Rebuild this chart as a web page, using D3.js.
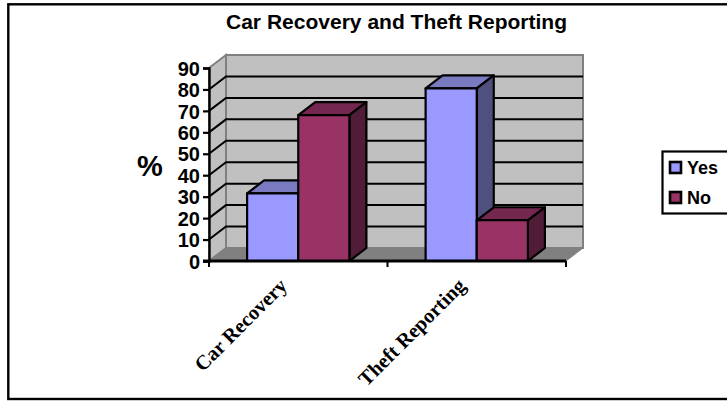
<!DOCTYPE html>
<html>
<head>
<meta charset="utf-8">
<style>
html,body{margin:0;padding:0;background:#fff;overflow:hidden}
svg{display:block}
.sans{font-family:"Liberation Sans",Arial,sans-serif;font-weight:bold;fill:#000}
.serif{font-family:"Liberation Serif","Times New Roman",serif;font-weight:bold;fill:#000}
</style>
<script src="https://cdn.jsdelivr.net/npm/d3@7/dist/d3.min.js"></script>
</head>
<body>
<svg id="c" width="727" height="401"></svg>
<script>
const categories = ["Car Recovery", "Theft Reporting"];
const seriesNames = ["Yes", "No"];
const yesValues = [31.5, 80.5];
const noValues = [68, 19];
const yTicks = [0, 10, 20, 30, 40, 50, 60, 70, 80, 90];
const seriesColors = ["#9999ff", "#993366"];
const topColors = ["#7a7ac0", "#742850"];
const sideColors = ["#50507f", "#501c38"];
const title = "Car Recovery and Theft Reporting";
const yTitle = "%";

const svg = d3.select("#c");
const depthX = 17, depthY = 13;

const x0 = d3.scaleBand().domain(categories).range([209, 566]);
const x1 = d3.scaleBand().domain(seriesNames).range([0, x0.bandwidth()]).paddingInner(0).paddingOuter(0.745);
const y = d3.scaleLinear().domain([0, 90]).range([261, 68]);

// outer frame
svg.append("rect").attr("x", 8.3).attr("y", 4.3).attr("width", 740).attr("height", 394.7)
  .attr("fill", "#fff").attr("stroke", "#000").attr("stroke-width", 2.4);

svg.append("text").attr("class", "sans").attr("x", 396.5).attr("y", 28.5)
  .attr("text-anchor", "middle").attr("font-size", 21).attr("textLength", 341).text(title);

// walls
const [xL, xR] = x0.range();
const y0 = y(0), yT = y(90);
const poly = (pts, fill, stroke, sw) => svg.append("polygon")
  .attr("points", pts.map(p => p.join(",")).join(" "))
  .attr("fill", fill).attr("stroke", stroke || "none").attr("stroke-width", sw || 0);

poly([[xL, y0], [xL + depthX, y0 - depthY], [xL + depthX, yT - depthY], [xL, yT]], "#c0c0c0", "#808080", 2);
poly([[xL + depthX, y0 - depthY], [xR + depthX, y0 - depthY], [xR + depthX, yT - depthY], [xL + depthX, yT - depthY]], "#c0c0c0", "#808080", 2);
poly([[xL, y0], [xL + depthX, y0 - depthY], [xR + depthX, y0 - depthY], [xR, y0]], "#808080", "#808080", 1);

// gridlines over the walls
const grid = yTicks.filter(t => t > 0 && t < 90);
svg.append("g").selectAll("path").data(grid).join("path")
  .attr("d", t => `M${xL},${y(t)}L${xL + depthX},${y(t) - depthY}L${xR + depthX},${y(t) - depthY}`)
  .attr("fill", "none").attr("stroke", "#000").attr("stroke-width", 2);

// bars
const bars = [];
categories.forEach((c, i) => {
  bars.push({ c, s: 0, v: yesValues[i] });
  bars.push({ c, s: 1, v: noValues[i] });
});
const stroke = "#000", sw = 2.2;
const barG = svg.append("g").attr("stroke-linejoin", "round");
bars.forEach(b => {
  const l = x0(b.c) + x1(seriesNames[b.s]);
  const r = l + x1.bandwidth();
  const t = y(b.v);
  const g = barG.append("g");
  g.append("polygon").attr("points", [[l, t], [l + depthX, t - depthY], [r + depthX, t - depthY], [r, t]].join(" "))
    .attr("fill", topColors[b.s]).attr("stroke", stroke).attr("stroke-width", sw);
  g.append("polygon").attr("points", [[r, y0], [r + depthX, y0 - depthY], [r + depthX, t - depthY], [r, t]].join(" "))
    .attr("fill", sideColors[b.s]).attr("stroke", stroke).attr("stroke-width", sw);
  g.append("rect").attr("x", l).attr("y", t).attr("width", r - l).attr("height", y0 - t)
    .attr("fill", seriesColors[b.s]).attr("stroke", stroke).attr("stroke-width", sw);
});

// axes
const axisY = d3.axisLeft(y).tickValues(yTicks).tickSize(6).tickPadding(3);
const gy = svg.append("g").attr("transform", `translate(${xL},0)`).call(axisY);
gy.select(".domain").attr("stroke-width", 2.4);
gy.selectAll("line").attr("stroke-width", 2.2);
gy.selectAll("text").attr("class", "sans").attr("font-size", 20).attr("font-family", null).attr("dy", "0.36em");

svg.append("line").attr("x1", xL - 6).attr("x2", xR).attr("y1", y0).attr("y2", y0)
  .attr("stroke", "#000").attr("stroke-width", 2.8);
const xTickPos = [xL, ...categories.map(c => x0(c) + x0.bandwidth())];
svg.append("g").selectAll("line").data(xTickPos).join("line")
  .attr("x1", d => d).attr("x2", d => d).attr("y1", y0).attr("y2", y0 + 6)
  .attr("stroke", "#000").attr("stroke-width", 2);

svg.append("g").selectAll("text").data(categories).join("text")
  .attr("class", "serif").attr("font-size", 20.5).attr("text-anchor", "end")
  .attr("transform", c => `translate(${x0(c) + x0.bandwidth() / 2 - 10},${y0 + 26}) rotate(-45)`)
  .text(c => c);

svg.append("text").attr("class", "sans").attr("x", 150).attr("y", 175.5)
  .attr("text-anchor", "middle").attr("font-size", 29).text(yTitle);

// legend
svg.append("rect").attr("x", 662.5).attr("y", 151.5).attr("width", 80).attr("height", 62)
  .attr("fill", "#fff").attr("stroke", "#000").attr("stroke-width", 2.2);
const legendY = d3.scalePoint().domain(seriesNames).range([167.5, 197.5]);
const lg = svg.append("g").selectAll("g").data(seriesNames).join("g")
  .attr("transform", d => `translate(0,${legendY(d)})`);
lg.append("rect").attr("x", 670).attr("y", -5.5).attr("width", 11).attr("height", 11)
  .attr("fill", (d, i) => seriesColors[i]).attr("stroke", "#000").attr("stroke-width", 2.6);
lg.append("text").attr("class", "sans").attr("x", 687).attr("y", 6).attr("font-size", 18).text(d => d);
</script>
</body>
</html>
